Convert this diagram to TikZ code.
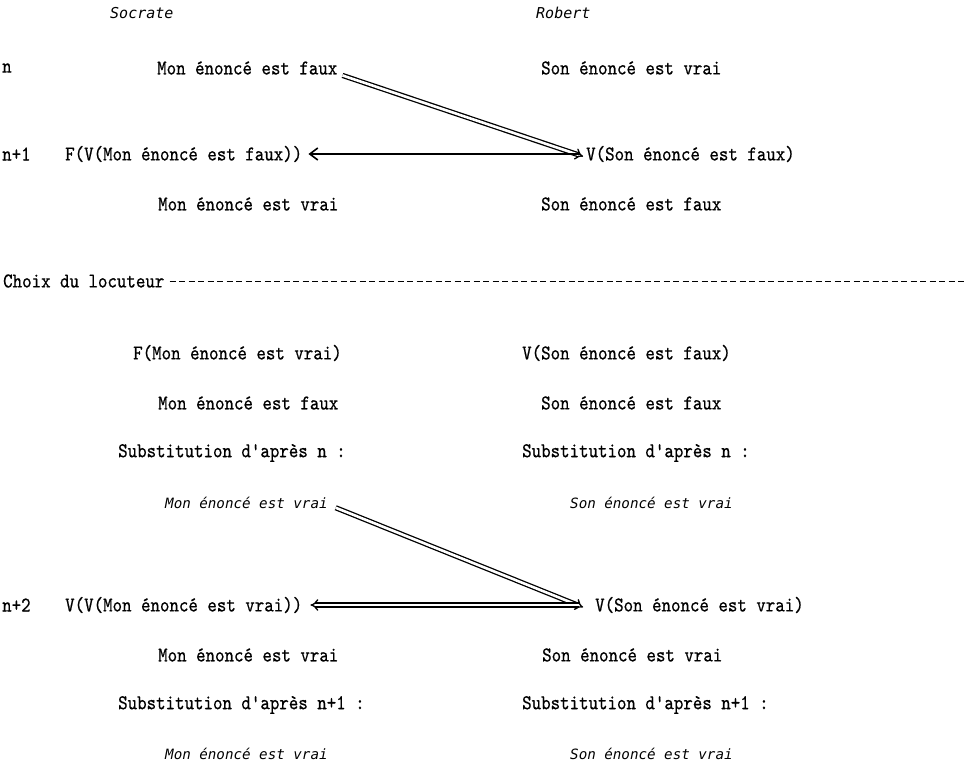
\documentclass[tikz,border=0pt]{standalone}
\usepackage{fontspec}
\usetikzlibrary{arrows.meta}
\newfontfamily\itf{DejaVu Sans Mono}
\newfontfamily\twf{lmmono10-regular.otf}[FakeBold=0.6,FakeStretch=0.86]
\newcommand{\twfont}{\twf\fontsize{21}{25}\selectfont}
\newcommand{\itfont}{\itf\itshape\fontsize{14.2}{17}\selectfont}
\newcommand{\hdfont}{\itf\itshape\fontsize{15}{18}\selectfont}
\begin{document}
\begin{tikzpicture}[x=1pt,y=-1pt,
  tw/.style={anchor=west,inner sep=0pt,font=\twfont},
  it/.style={anchor=west,inner sep=0pt,font=\itfont},
  hd/.style={anchor=west,inner sep=0pt,font=\hdfont},
  dbl/.style={double,double distance=2.6pt,line width=1.3pt,-{Implies[length=8pt]},shorten <=2pt,shorten >=2pt},
  sgl/.style={line width=1.6pt,-{Straight Barb[length=8pt,width=12pt,line width=1.6pt]}}]
\useasboundingbox (0,0) rectangle (967,768);
% header
\node[hd] (soc) at (110,13) {Socrate};
\node[hd] (rob) at (536,13) {Robert};
% row n
\node[tw] (ln) at (2,68) {n};
\node[tw] (mf1) at (157,68) {Mon énoncé est faux};
\node[tw] (sv1) at (541,68) {Son énoncé est vrai};
% row n+1
\node[tw] (ln1) at (2,154) {n+1};
\node[tw] (fv1) at (65,154) {F(V(Mon énoncé est faux))};
\node[tw] (vs1) at (586,154) {V(Son énoncé est faux)};
\node[tw] (mv1) at (158,204) {Mon énoncé est vrai};
\node[tw] (sf1) at (541,204) {Son énoncé est faux};
% choix
\node[tw] (choix) at (3,281) {Choix du locuteur};
\coordinate (dend) at (967,281);
\draw[line width=0.7pt,dash pattern=on 6pt off 3.5pt] ([xshift=5pt]choix.east) -- (choix.east -| dend);
% block
\node[tw] (fm) at (133,353) {F(Mon énoncé est vrai)};
\node[tw] (vs2) at (522,353) {V(Son énoncé est faux)};
\node[tw] (mf2) at (158,403) {Mon énoncé est faux};
\node[tw] (sf2) at (541,403) {Son énoncé est faux};
\node[tw] (sub1) at (118,453) {Substitution d'après n :};
\node[tw] (sub2) at (522,453) {Substitution d'après n :};
\node[it] (im1) at (165,503) {Mon énoncé est vrai};
\node[it] (is1) at (570,503) {Son énoncé est vrai};
% row n+2
\node[tw] (ln2) at (2,605) {n+2};
\node[tw] (vv) at (65,605) {V(V(Mon énoncé est vrai))};
\node[tw] (vs3) at (595,605) {V(Son énoncé est vrai)};
\node[tw] (mv2) at (158,655) {Mon énoncé est vrai};
\node[tw] (sv2) at (542,655) {Son énoncé est vrai};
\node[tw] (sub3) at (118,705) {Substitution d'après n+1 :};
\node[tw] (sub4) at (522,705) {Substitution d'après n+1 :};
\node[it] (im2) at (165,754) {Mon énoncé est vrai};
\node[it] (is2) at (570,754) {Son énoncé est vrai};
% arrows
\draw[dbl] ([xshift=3pt]mf1.south east) -- ([xshift=-1pt,yshift=-3pt]vs1.west);
\draw[sgl] ([xshift=-6pt]vs1.west) -- ([xshift=6pt]fv1.east);
\draw[dbl] ([xshift=6pt,yshift=2pt]im1.south east) -- ([xshift=-10pt,yshift=-3pt]vs3.west);
\draw[dbl] ([xshift=-14pt]vs3.west) -- ([xshift=6pt]vv.east);
\end{tikzpicture}
\end{document}
